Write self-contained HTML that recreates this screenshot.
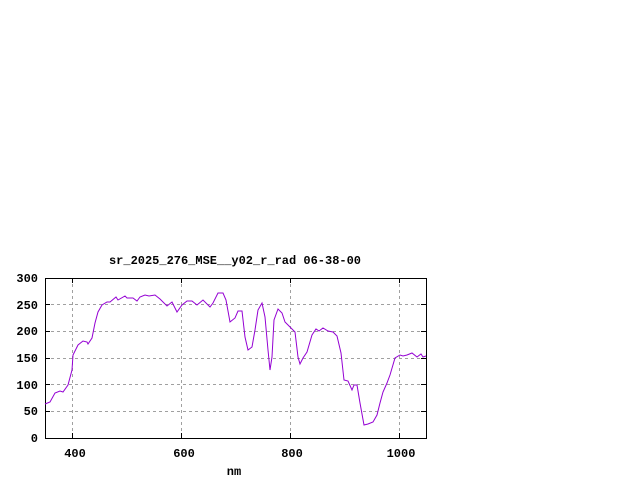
<!DOCTYPE html>
<html><head><style>body{margin:0;background:#fff}svg{display:block}text{font-family:"Liberation Mono",monospace;font-size:12px;font-weight:bold;fill:#000}</style></head><body>
<svg width="640" height="480" xmlns="http://www.w3.org/2000/svg">
<rect width="640" height="480" fill="#fff"/>
<g stroke="#a0a0a0" stroke-dasharray="3,3" stroke-width="1">
<line x1="45" y1="411.5" x2="426" y2="411.5"/><line x1="45" y1="384.5" x2="426" y2="384.5"/><line x1="45" y1="358.5" x2="426" y2="358.5"/><line x1="45" y1="331.5" x2="426" y2="331.5"/><line x1="45" y1="304.5" x2="426" y2="304.5"/>
<line x1="72.5" y1="278" x2="72.5" y2="438"/><line x1="181.5" y1="278" x2="181.5" y2="438"/><line x1="290.5" y1="278" x2="290.5" y2="438"/><line x1="399.5" y1="278" x2="399.5" y2="438"/>
</g>
<g stroke="#000" stroke-width="1">
<rect x="45.5" y="278.5" width="381" height="160" fill="none"/>
<line x1="45" y1="411.5" x2="50" y2="411.5"/><line x1="45" y1="384.5" x2="50" y2="384.5"/><line x1="45" y1="358.5" x2="50" y2="358.5"/><line x1="45" y1="331.5" x2="50" y2="331.5"/><line x1="45" y1="304.5" x2="50" y2="304.5"/>
<line x1="421" y1="411.5" x2="426" y2="411.5"/><line x1="421" y1="384.5" x2="426" y2="384.5"/><line x1="421" y1="358.5" x2="426" y2="358.5"/><line x1="421" y1="331.5" x2="426" y2="331.5"/><line x1="421" y1="304.5" x2="426" y2="304.5"/>
<line x1="72.5" y1="438" x2="72.5" y2="433"/><line x1="181.5" y1="438" x2="181.5" y2="433"/><line x1="290.5" y1="438" x2="290.5" y2="433"/><line x1="399.5" y1="438" x2="399.5" y2="433"/>
<line x1="72.5" y1="278" x2="72.5" y2="283"/><line x1="181.5" y1="278" x2="181.5" y2="283"/><line x1="290.5" y1="278" x2="290.5" y2="283"/><line x1="399.5" y1="278" x2="399.5" y2="283"/>
</g>
<polyline fill="none" stroke="#9400d3" stroke-width="1" points="45,404 50,402 55,393 60,391 63,392 68,385 72,370 73,355 78,345 83,341 87,342 88,344 92,338 95,323 98,312 102,305 107,302 110,302 116,297 118,300 125,296 127,298 133,298 137,301 140,297 145,295 149,296 155,295 160,299 167,306 172,302 177,312 182,305 187,301 192,301 197,305 203,300 210,307 213,303 218,293 223,293 226,300 230,322 235,318 238,311 242,311 245,337 248,350 252,347 255,330 258,310 262,303 265,317 268,350 270,370 272,357 274,320 278,309 282,313 285,322 290,327 295,332 298,357 300,364 303,358 307,352 312,335 316,329 319,331 323,328 328,331 333,332 337,336 341,353 344,380 348,381 352,390 354,385 357,385 360,403 364,425 368,424 373,422 377,415 380,403 383,392 387,383 390,375 395,358 400,355 403,356 407,355 412,353 417,357 421,354 423,357 426,356"/>
<g text-anchor="end">
<text x="38" y="442">0</text><text x="38" y="415">50</text><text x="38" y="389">100</text><text x="38" y="362">150</text><text x="38" y="335">200</text><text x="38" y="309">250</text><text x="38" y="282">300</text>
</g>
<g text-anchor="middle">
<text x="75" y="457">400</text><text x="184" y="457">600</text><text x="292" y="457">800</text><text x="401" y="457">1000</text>
<text x="234" y="475">nm</text>
<text x="235" y="264">sr_2025_276_MSE__y02_r_rad 06-38-00</text>
</g>
</svg>
</body></html>
